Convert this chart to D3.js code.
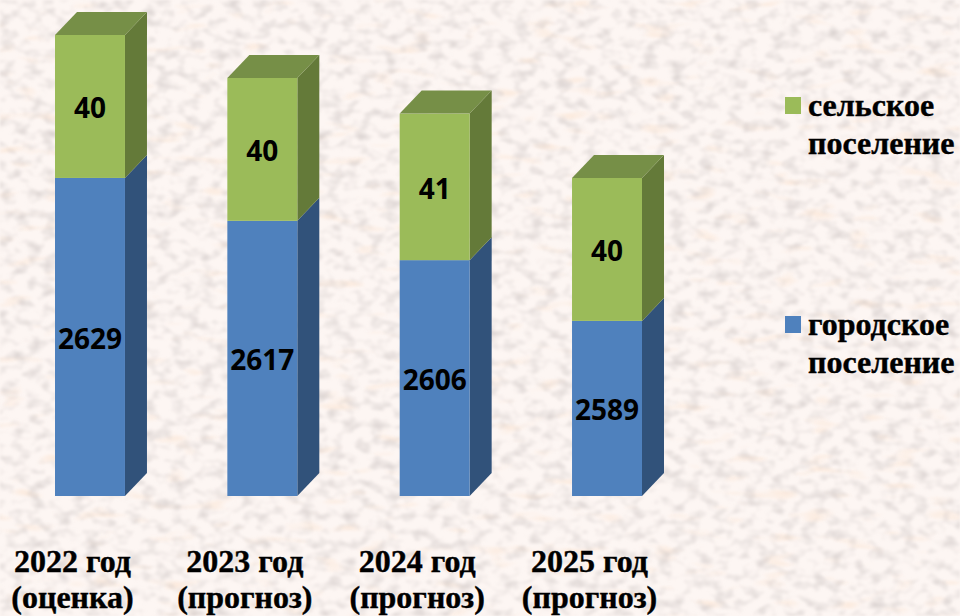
<!DOCTYPE html>
<html>
<head>
<meta charset="utf-8">
<script src="https://cdn.jsdelivr.net/npm/d3@7/dist/d3.min.js"></script>
<style>
  html, body { margin: 0; padding: 0; background: #fbf4ef; overflow: hidden; }
</style>
</head>
<body>
<svg id="chart"></svg>
<script>
const years = ["2022 год", "2023 год", "2024 год", "2025 год"];
const yearNotes = ["(оценка)", "(прогноз)", "(прогноз)", "(прогноз)"];
const urban = [2629, 2617, 2606, 2589];
const rural = [40, 40, 41, 40];
const seriesKeys = ["urban", "rural"];
const legendLabels = [["сельское", "поселение"], ["городское", "поселение"]];

const width = 960, height = 616;
const depthX = 22, depthY = -23; // 3d offset of the columns

const colors = {
  urban: { front: "#4f81bd", side: "#31527a", top: "#3f6797" },
  rural: { front: "#9bbb59", side: "#647a39", top: "#768f47" }
};

const svg = d3.select("#chart").attr("width", width).attr("height", height)
  .style("display", "block");

// paper texture
const defs = svg.append("defs");
const weave = defs.append("filter").attr("id", "weave")
  .attr("x", 0).attr("y", 0).attr("width", "100%").attr("height", "100%");
weave.append("feTurbulence").attr("type", "fractalNoise")
  .attr("baseFrequency", "0.07 0.1").attr("numOctaves", 2).attr("seed", 7);
weave.append("feColorMatrix").attr("type", "matrix")
  .attr("values", "0 0 0 0 0.6  0 0 0 0 0.55  0 0 0 0 0.54  1.5 0 0 0 -0.68");
weave.append("feGaussianBlur").attr("stdDeviation", 1.2);
const blotch = defs.append("filter").attr("id", "blotch")
  .attr("x", 0).attr("y", 0).attr("width", "100%").attr("height", "100%");
blotch.append("feTurbulence").attr("type", "fractalNoise")
  .attr("baseFrequency", "0.025 0.09").attr("numOctaves", 2).attr("seed", 21);
blotch.append("feColorMatrix").attr("type", "matrix")
  .attr("values", "0 0 0 0 0.96  0 0 0 0 0.75  0 0 0 0 0.6  0 2 0 0 -1.2");
blotch.append("feGaussianBlur").attr("stdDeviation", 1);

svg.append("rect").attr("width", width).attr("height", height).attr("fill", "#fdf6f3");
svg.append("rect").attr("width", width).attr("height", height).attr("filter", "url(#blotch)");
svg.append("rect").attr("width", width).attr("height", height).attr("filter", "url(#weave)");

// table for the stack
const table = years.map((y, i) => ({ year: y, urban: urban[i], rural: rural[i] }));
const stacked = d3.stack().keys(seriesKeys)(table);

const x = d3.scaleBand().domain(years).range([55, 642]).paddingInner(0.594).paddingOuter(0);
// the original value axis starts at 2540, not at zero
const y = d3.scaleLinear().domain([2540, 2669]).range([496, 35]);

const layer = svg.selectAll("g.layer").data(stacked).enter().append("g")
  .attr("class", "layer");

const poly = (pts) => pts.map((p) => p.join(",")).join(" ");

// side faces
layer.selectAll("polygon.side").data((s) => s.map((d) => ({ d, key: s.key }))).enter()
  .append("polygon").attr("class", "side")
  .attr("fill", (v) => colors[v.key].side)
  .attr("points", (v) => {
    const r = x(v.d.data.year) + x.bandwidth();
    const lo = y(Math.max(v.d[0], 2540)), hi = y(v.d[1]);
    return poly([[r, lo], [r + depthX, lo + depthY], [r + depthX, hi + depthY], [r, hi]]);
  });

// front faces
layer.selectAll("rect.front").data((s) => s.map((d) => ({ d, key: s.key }))).enter()
  .append("rect").attr("class", "front")
  .attr("fill", (v) => colors[v.key].front)
  .attr("x", (v) => x(v.d.data.year))
  .attr("width", x.bandwidth())
  .attr("y", (v) => y(v.d[1]))
  .attr("height", (v) => y(Math.max(v.d[0], 2540)) - y(v.d[1]));

// top faces, only on the upper segment
svg.selectAll("polygon.top").data(stacked[1]).enter()
  .append("polygon").attr("class", "top")
  .attr("fill", colors.rural.top)
  .attr("points", (d) => {
    const l = x(d.data.year), r = l + x.bandwidth(), t = y(d[1]);
    return poly([[l, t], [l + depthX, t + depthY], [r + depthX, t + depthY], [r, t]]);
  });

// value labels
const labels = svg.append("g").attr("font-family", "'Open Sans', sans-serif")
  .attr("font-weight", 700).attr("font-size", 28).attr("fill", "#000")
  .attr("text-anchor", "middle");
stacked.forEach((s) => {
  labels.selectAll(null).data(s).enter().append("text")
    .attr("x", (d) => x(d.data.year) + x.bandwidth() / 2)
    .attr("y", (d) => (y(Math.max(d[0], 2540)) + y(d[1])) / 2 + 12)
    .text((d) => d.data[s.key]);
});

// category axis, two lines per tick
const axis = svg.append("g").attr("transform", "translate(0,496)")
  .call(d3.axisBottom(x).tickSize(0).tickPadding(0));
axis.select(".domain").remove();
axis.selectAll(".tick text").each(function (d, i) {
  const t = d3.select(this).text(null)
    .attr("font-family", "'Liberation Serif', serif").attr("font-weight", 700)
    .attr("font-size", 32).attr("fill", "#000").attr("stroke", "#000").attr("stroke-width", 0.4)
    .attr("dy", null).attr("y", null);
  t.append("tspan").attr("x", 0).attr("y", 76).text(d);
  t.append("tspan").attr("x", 0).attr("y", 112).text(yearNotes[i]);
});
axis.selectAll(".tick").attr("transform", (d) => `translate(${x(d) + x.bandwidth() / 2 - 17.5},0)`);

// legend
const legendColors = [colors.rural.front, colors.urban.front];
const legendTop = [97, 316];
const legend = svg.selectAll("g.legend").data(legendLabels).enter().append("g")
  .attr("class", "legend")
  .attr("transform", (d, i) => `translate(785,${legendTop[i]})`);
legend.append("rect").attr("width", 16).attr("height", 17)
  .attr("fill", (d, i) => legendColors[i]);
legend.append("text")
  .attr("font-family", "'Liberation Serif', serif").attr("font-weight", 700)
  .attr("font-size", 32).attr("fill", "#000").attr("stroke", "#000").attr("stroke-width", 0.4)
  .selectAll("tspan").data((d) => d).enter().append("tspan")
  .attr("x", 23).attr("y", (d, i) => 19 + i * 38).text((d) => d);
</script>
</body>
</html>
